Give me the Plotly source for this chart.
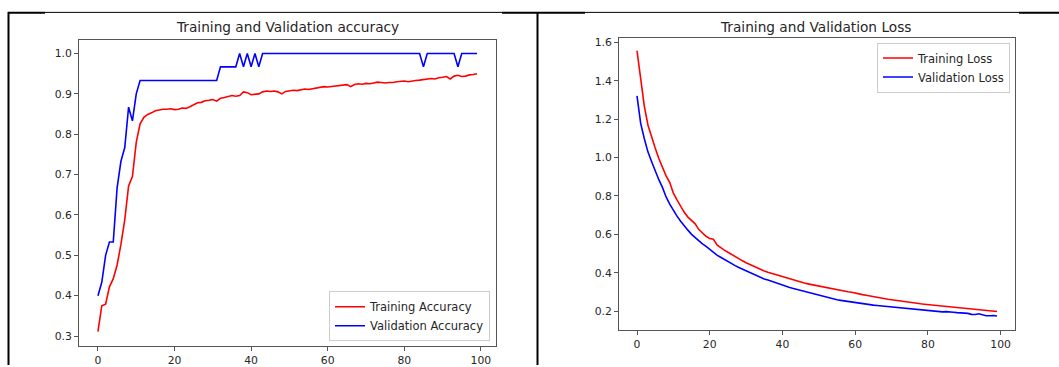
import plotly.graph_objects as go

epochs = list(range(100))

train_acc = [0.311, 0.375, 0.379, 0.422, 0.442, 0.476, 0.527, 0.588, 0.672, 0.695,
             0.780, 0.826, 0.842, 0.849, 0.853, 0.858, 0.860, 0.862, 0.862, 0.863,
             0.861, 0.862, 0.865, 0.864, 0.868, 0.872, 0.878, 0.879, 0.883, 0.884,
             0.886, 0.882, 0.889, 0.891, 0.893, 0.896, 0.894, 0.896, 0.905, 0.903,
             0.898, 0.899, 0.900, 0.905, 0.907, 0.906, 0.907, 0.905, 0.900, 0.906,
             0.908, 0.909, 0.908, 0.910, 0.912, 0.911, 0.913, 0.914, 0.916, 0.918,
             0.917, 0.918, 0.919, 0.920, 0.922, 0.923, 0.918, 0.923, 0.925, 0.924,
             0.926, 0.925, 0.927, 0.929, 0.928, 0.927, 0.928, 0.928, 0.930, 0.931,
             0.932, 0.930, 0.932, 0.933, 0.934, 0.935, 0.936, 0.938, 0.937, 0.940,
             0.941, 0.943, 0.937, 0.944, 0.946, 0.943, 0.944, 0.947, 0.948, 0.950]

val_acc = [0.400, 0.433, 0.500, 0.533, 0.533, 0.667, 0.733, 0.767, 0.867, 0.833,
           0.900, 0.933, 0.933, 0.933, 0.933, 0.933, 0.933, 0.933, 0.933, 0.933,
           0.933, 0.933, 0.933, 0.933, 0.933, 0.933, 0.933, 0.933, 0.933, 0.933,
           0.933, 0.933, 0.967, 0.967, 0.967, 0.967, 0.967, 1.000, 0.967, 1.000,
           0.967, 1.000, 0.967, 1.000, 1.000, 1.000, 1.000, 1.000, 1.000, 1.000,
           1.000, 1.000, 1.000, 1.000, 1.000, 1.000, 1.000, 1.000, 1.000, 1.000,
           1.000, 1.000, 1.000, 1.000, 1.000, 1.000, 1.000, 1.000, 1.000, 1.000,
           1.000, 1.000, 1.000, 1.000, 1.000, 1.000, 1.000, 1.000, 1.000, 1.000,
           1.000, 1.000, 1.000, 1.000, 1.000, 0.967, 1.000, 1.000, 1.000, 1.000,
           1.000, 1.000, 1.000, 1.000, 0.967, 1.000, 1.000, 1.000, 1.000, 1.000]

train_loss = [1.557, 1.400, 1.270, 1.170, 1.105, 1.050, 0.995, 0.945, 0.905, 0.870,
              0.815, 0.780, 0.745, 0.715, 0.690, 0.670, 0.655, 0.625, 0.605, 0.590,
              0.578, 0.575, 0.545, 0.530, 0.518, 0.507, 0.495, 0.482, 0.470, 0.462,
              0.452, 0.443, 0.433, 0.425, 0.416, 0.409, 0.402, 0.396, 0.390, 0.384,
              0.378, 0.373, 0.369, 0.362, 0.355, 0.350, 0.346, 0.342, 0.338, 0.334,
              0.330, 0.327, 0.323, 0.320, 0.316, 0.312, 0.309, 0.305, 0.301, 0.298,
              0.293, 0.290, 0.286, 0.283, 0.279, 0.276, 0.272, 0.269, 0.265, 0.262,
              0.259, 0.256, 0.253, 0.251, 0.248, 0.245, 0.243, 0.240, 0.238, 0.236,
              0.234, 0.232, 0.229, 0.227, 0.226, 0.222, 0.221, 0.219, 0.217, 0.216,
              0.215, 0.212, 0.210, 0.209, 0.207, 0.206, 0.203, 0.201, 0.200, 0.198]

val_loss = [1.322, 1.180, 1.100, 1.030, 0.980, 0.930, 0.885, 0.845, 0.795, 0.758,
            0.725, 0.695, 0.668, 0.643, 0.622, 0.600, 0.582, 0.565, 0.550, 0.537,
            0.522, 0.505, 0.492, 0.481, 0.469, 0.458, 0.447, 0.437, 0.427, 0.418,
            0.409, 0.400, 0.393, 0.385, 0.376, 0.367, 0.362, 0.355, 0.348, 0.341,
            0.335, 0.330, 0.323, 0.318, 0.313, 0.306, 0.300, 0.296, 0.292, 0.288,
            0.283, 0.278, 0.273, 0.268, 0.263, 0.259, 0.256, 0.253, 0.249, 0.246,
            0.243, 0.241, 0.239, 0.236, 0.234, 0.231, 0.229, 0.227, 0.225, 0.223,
            0.222, 0.220, 0.218, 0.215, 0.214, 0.213, 0.211, 0.209, 0.206, 0.204,
            0.203, 0.200, 0.199, 0.199, 0.196, 0.197, 0.197, 0.194, 0.192, 0.191,
            0.191, 0.188, 0.183, 0.182, 0.186, 0.180, 0.176, 0.176, 0.177, 0.174]

acc_title = "Training and Validation accuracy"
loss_title = "Training and Validation Loss"

W, H = 1059, 367
FONT = "DejaVu Sans"
SPINE = "#555555"
TXT = "#262626"

def px(x):
    return x / W

def py(y):
    return 1 - y / H

fig = go.Figure()
fig.add_trace(go.Scatter(x=epochs, y=train_acc, mode="lines", name="Training Accuracy",
                         line=dict(color="#ff0000", width=1.6), xaxis="x", yaxis="y", legend="legend"))
fig.add_trace(go.Scatter(x=epochs, y=val_acc, mode="lines", name="Validation Accuracy",
                         line=dict(color="#0000ff", width=1.6), xaxis="x", yaxis="y", legend="legend"))
fig.add_trace(go.Scatter(x=epochs, y=train_loss, mode="lines", name="Training Loss",
                         line=dict(color="#ff0000", width=1.6), xaxis="x2", yaxis="y2", legend="legend2"))
fig.add_trace(go.Scatter(x=epochs, y=val_loss, mode="lines", name="Validation Loss",
                         line=dict(color="#0000ff", width=1.6), xaxis="x2", yaxis="y2", legend="legend2"))

axis_common = dict(showgrid=False, zeroline=False, showline=True, mirror=True,
                   linecolor=SPINE, linewidth=1, ticks="outside", ticklen=4,
                   tickcolor=SPINE, tickwidth=1,
                   tickfont=dict(family=FONT, size=10.8, color=TXT))

fig.update_layout(
    width=W, height=H,
    margin=dict(l=0, r=0, t=0, b=0),
    paper_bgcolor="white", plot_bgcolor="white",
    font=dict(family=FONT, color=TXT),
    xaxis=dict(domain=[px(79), px(496)], range=[-4.95, 103.95],
               tickvals=[0, 20, 40, 60, 80, 100], anchor="y", **axis_common),
    yaxis=dict(domain=[py(347.7), py(38)], range=[0.2755, 1.0345],
               tickvals=[0.3, 0.4, 0.5, 0.6, 0.7, 0.8, 0.9, 1.0], tickformat=".1f",
               anchor="x", **axis_common),
    xaxis2=dict(domain=[px(619), px(1015)], range=[-4.95, 103.95],
                tickvals=[0, 20, 40, 60, 80, 100], anchor="y2", **axis_common),
    yaxis2=dict(domain=[py(331.7), py(36.7)], range=[0.101, 1.622],
                tickvals=[0.2, 0.4, 0.6, 0.8, 1.0, 1.2, 1.4, 1.6], tickformat=".1f",
                anchor="x2", **axis_common),
    legend=dict(x=px(490), y=py(343), xanchor="right", yanchor="bottom",
                bgcolor="white", bordercolor="#cccccc", borderwidth=1,
                font=dict(family=FONT, size=11.5, color=TXT), tracegroupgap=0),
    legend2=dict(x=px(1010), y=py(41), xanchor="right", yanchor="top",
                 bgcolor="white", bordercolor="#cccccc", borderwidth=1,
                 font=dict(family=FONT, size=11.5, color=TXT), tracegroupgap=0),
    showlegend=True,
)

fig.add_annotation(x=px(287.5), y=py(25), xref="paper", yref="paper", text=acc_title,
                   showarrow=False, xanchor="center", yanchor="middle",
                   font=dict(family=FONT, size=13.7, color=TXT))
fig.add_annotation(x=px(816), y=py(25), xref="paper", yref="paper", text=loss_title,
                   showarrow=False, xanchor="center", yanchor="middle",
                   font=dict(family=FONT, size=13.7, color=TXT))

# page frame lines (table borders around the two images)
def hline(x0, x1, y, w):
    fig.add_shape(type="line", xref="paper", yref="paper", x0=px(x0), x1=px(x1),
                  y0=py(y), y1=py(y), line=dict(color="black", width=w))

def vline(x, y0, y1, w):
    fig.add_shape(type="line", xref="paper", yref="paper", x0=px(x), x1=px(x),
                  y0=py(y0), y1=py(y1), line=dict(color="black", width=w))

hline(8, 45, 10.8, 2)
hline(45, 502, 10.5, 1)
hline(502, 585, 10.8, 2)
hline(585, 1019, 10.5, 1)
hline(1019, 1059, 10.8, 2)
vline(8.5, 10, 367, 2)
vline(537.5, 10, 367, 2)

fig.write_html("out.html")
